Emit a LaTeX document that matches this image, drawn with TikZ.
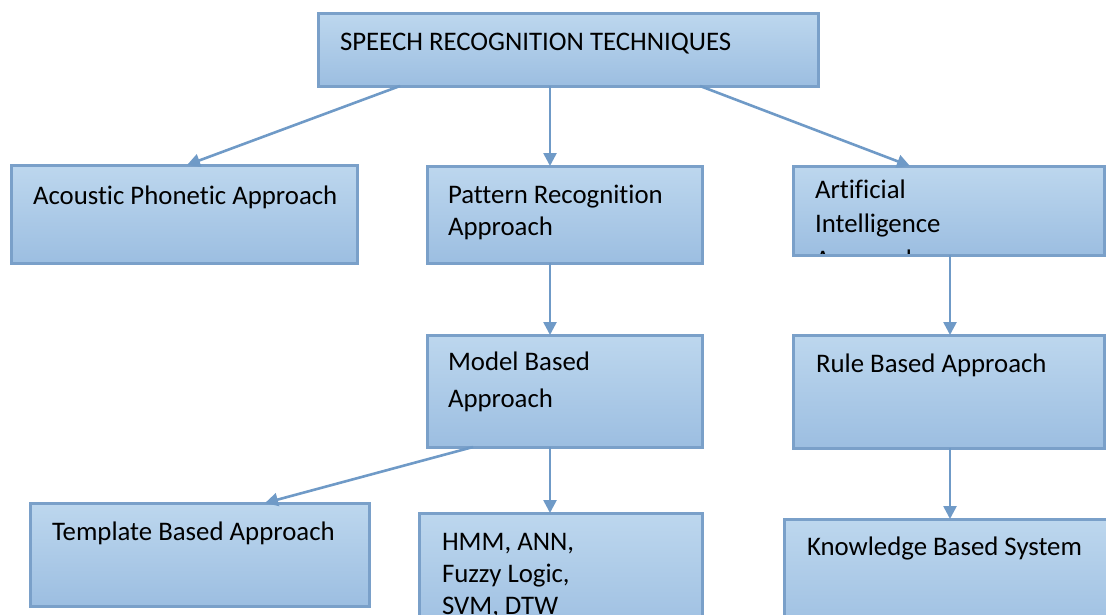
\documentclass[tikz,border=0pt]{standalone}
\usepackage{fontspec}
\setmainfont[RawFeature={-liga}]{Carlito}
\usetikzlibrary{arrows.meta}
\definecolor{boxtop}{HTML}{BDD7EE}
\definecolor{boxbot}{HTML}{9CBEE1}
\definecolor{boxline}{HTML}{7AA0C9}
\definecolor{arrline}{HTML}{6F9AC7}
\tikzset{
  box/.style={draw=boxline, line width=3pt, top color=boxtop, bottom color=boxbot,
              inner sep=0pt, outer sep=0pt, rectangle},
  lbl/.style={anchor=base west, inner sep=0pt, outer sep=0pt,
              font=\fontsize{26.8}{33}\selectfont, text=black},
  conn/.style={draw=arrline, line width=2.6pt,
               -{Triangle[length=13pt,width=13pt]}},
}
\begin{document}
\begin{tikzpicture}[x=1pt,y=-1pt]
\useasboundingbox (0,0) rectangle (1106,614);
\clip (0,0) rectangle (1106,614);
% boxes
\node[box, minimum width=500pt, minimum height=73pt] (top) at (568,49.5) {};
\node[box, minimum width=346pt, minimum height=98pt] (ac) at (184,214) {};
\node[box, minimum width=275pt, minimum height=97pt] (pat) at (564.5,214.5) {};
\node[box, minimum width=311pt, minimum height=89pt] (ai) at (948.5,210.5) {};
\node[box, minimum width=275pt, minimum height=112pt] (mod) at (564.5,391) {};
\node[box, minimum width=311pt, minimum height=113pt] (rule) at (948.5,391.5) {};
\node[box, minimum width=339pt, minimum height=103pt] (tmp) at (199.5,554.5) {};
\node[box, minimum width=283pt, minimum height=127pt] (hmm) at (560.5,576.5) {};
\node[box, minimum width=331pt, minimum height=121pt] (kb) at (949.5,579.5) {};
% labels
\node[lbl] (ttop) at (340,50) {SPEECH RECOGNITION TECHNIQUES};
\node[lbl] (tac) at (33,204) {Acoustic Phonetic Approach};
\node[lbl] (tpat1) at (448,203) {Pattern Recognition};
\node[lbl] (tpat2) at (448,235) {Approach};
\node[lbl] (tai1) at (815,198) {Artificial};
\node[lbl] (tai2) at (815,232) {Intelligence};
\begin{scope}
  \clip (ai.north west) rectangle ([yshift=1.5pt]ai.south east);
  \node[lbl] (tai3) at (815,268) {Approach};
\end{scope}
\node[lbl] (tmod1) at (448,370) {Model Based};
\node[lbl] (tmod2) at (448,407) {Approach};
\node[lbl] (trule) at (816,372) {Rule Based Approach};
\node[lbl] (ttmp) at (52,540) {Template Based Approach};
\node[lbl] (thmm1) at (442,550) {HMM, ANN,};
\node[lbl] (thmm2) at (442,582) {Fuzzy Logic,};
\node[lbl] (thmm3) at (442,614) {SVM, DTW};
\node[lbl] (tkb) at (807,555) {Knowledge Based System};
% connectors
\draw[conn] ([xshift=-168pt]top.south) -- ([xshift=3pt]ac.north);
\draw[conn] ([xshift=-18pt]top.south) -- ([xshift=-14.5pt]pat.north);
\draw[conn] ([xshift=132pt]top.south) -- ([xshift=-38.5pt]ai.north);
\draw[conn] ([xshift=-14.5pt]pat.south) -- ([xshift=-14.5pt]mod.north);
\draw[conn] ([xshift=1.5pt]ai.south) -- ([xshift=1.5pt]rule.north);
\draw[conn] ([xshift=1.5pt]rule.south) -- ([xshift=0.5pt]kb.north);
\draw[conn] ([xshift=-91.5pt]mod.south) -- ([xshift=65.5pt]tmp.north);
\draw[conn] ([xshift=-14.5pt]mod.south) -- ([xshift=-10.5pt]hmm.north);
\end{tikzpicture}
\end{document}
